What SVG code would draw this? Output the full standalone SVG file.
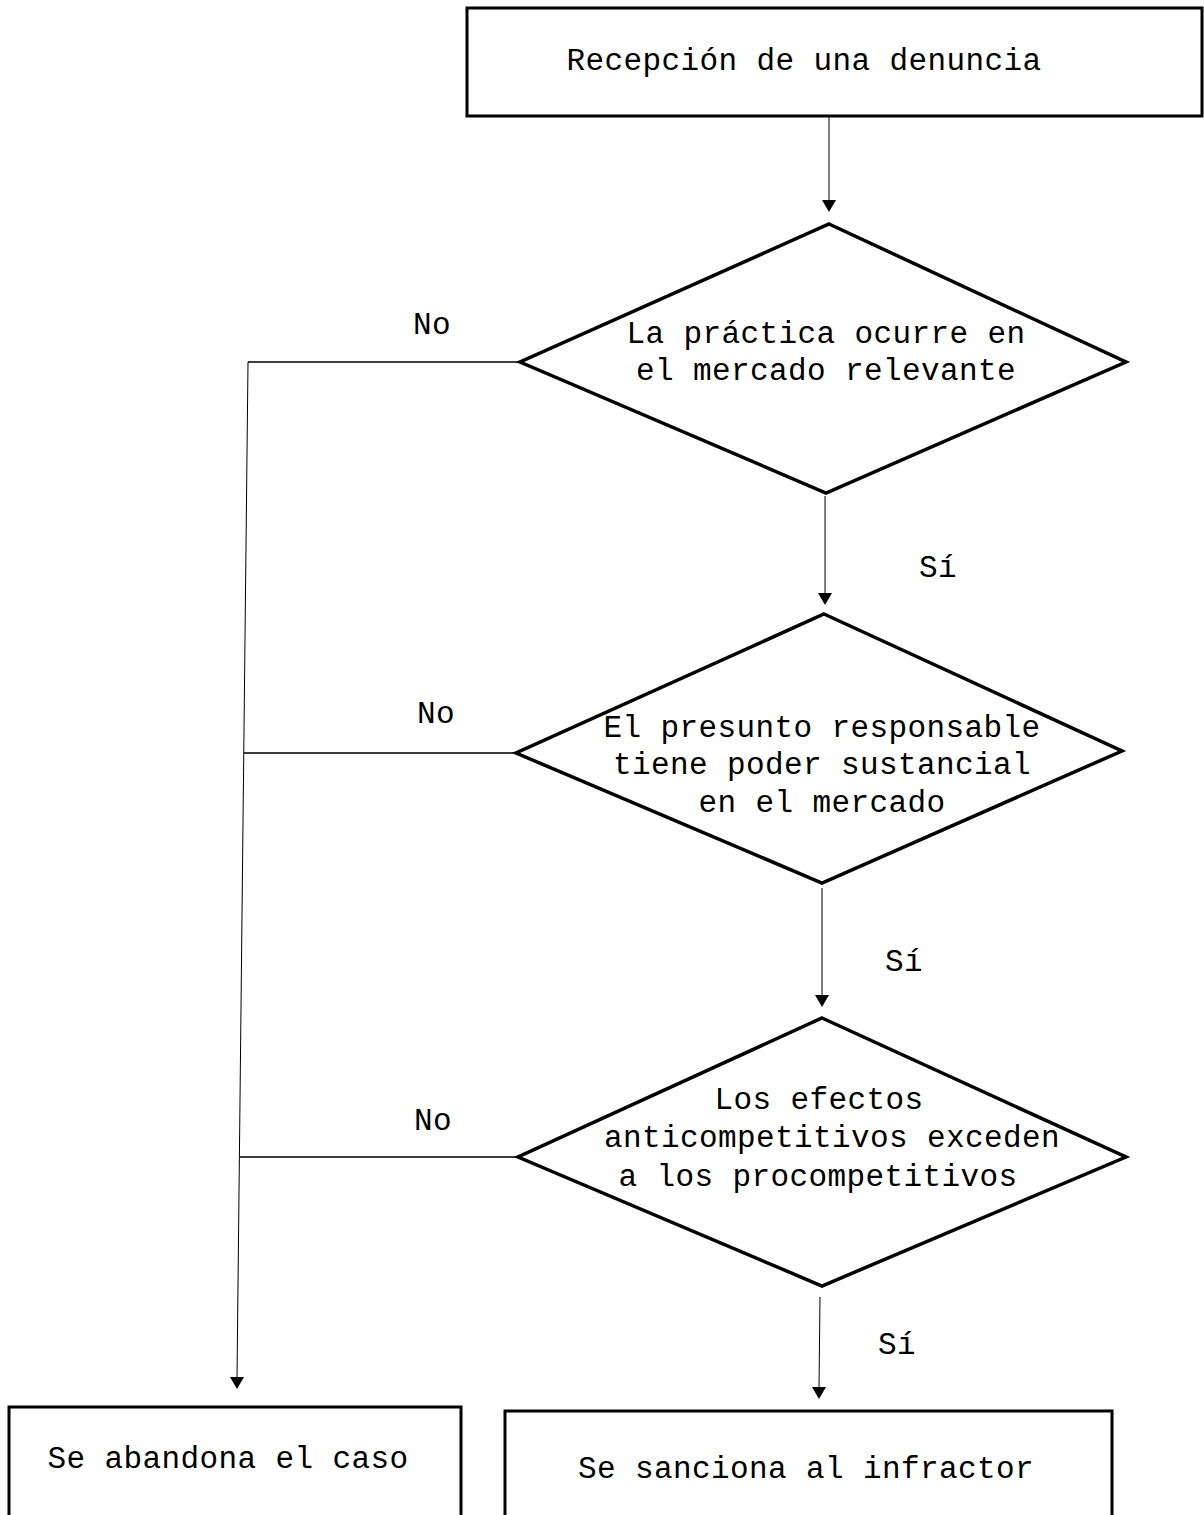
<svg xmlns="http://www.w3.org/2000/svg" width="1204" height="1515" viewBox="0 0 1204 1515">
<style>
.box{fill:#fff;stroke:#000;stroke-width:3}
.dia{fill:#fff;stroke:#000;stroke-width:3.5;stroke-linejoin:miter}
.t{font-family:"Liberation Mono","Courier New",monospace;font-size:31px;letter-spacing:0.4px;fill:#000;text-anchor:middle}
.c{fill:none;stroke:#000;stroke-width:1.5}
.v{fill:none;stroke:#000;stroke-width:1}
</style>
<rect width="1204" height="1515" fill="#fff"/>
<g id="connectors">
<line class="v" x1="829" y1="117" x2="829" y2="201"/>
<path d="M822,200 L836,200 L829,212 Z"/>
<line class="v" x1="825" y1="496" x2="825" y2="594"/>
<path d="M818,593 L832,593 L825,605 Z"/>
<line class="v" x1="822" y1="888" x2="822" y2="996"/>
<path d="M815,995 L829,995 L822,1007 Z"/>
<line class="v" x1="820" y1="1297" x2="819" y2="1388"/>
<path d="M812,1387 L826,1387 L819,1399 Z"/>
<line class="c" x1="248" y1="362" x2="520" y2="362"/>
<line class="c" x1="244" y1="753" x2="516" y2="753"/>
<line class="c" x1="240" y1="1157" x2="518" y2="1157"/>
<line class="v" x1="248" y1="362" x2="237" y2="1378"/>
<path d="M230,1377 L244,1377 L237,1389 Z"/>
<text class="t" x="432" y="334">No</text>
<text class="t" x="436" y="723">No</text>
<text class="t" x="433" y="1130">No</text>
<text class="t" x="938" y="577">Sí</text>
<text class="t" x="904" y="971">Sí</text>
<text class="t" x="897" y="1354">Sí</text>
</g>
<g id="n1">
<rect class="box" x="467" y="8" width="735" height="108"/>
<text class="t" x="804" y="70">Recepción de una denuncia</text>
</g>
<g id="d1">
<polygon class="dia" points="829,224 1126,362 826,493 520,362"/>
<text class="t" x="826" y="343">La práctica ocurre en</text>
<text class="t" x="826" y="380">el mercado relevante</text>
</g>
<g id="d2">
<polygon class="dia" points="824,614 1122,751 822,883 516,753"/>
<text class="t" x="822" y="737">El presunto responsable</text>
<text class="t" x="822" y="774">tiene poder sustancial</text>
<text class="t" x="822" y="812">en el mercado</text>
</g>
<g id="d3">
<polygon class="dia" points="822,1018 1126,1157 822,1286 518,1157"/>
<text class="t" x="819" y="1109">Los efectos</text>
<text class="t" x="832" y="1147">anticompetitivos exceden</text>
<text class="t" x="818" y="1186">a los procompetitivos</text>
</g>
<g id="n_abandona">
<rect class="box" x="9" y="1407" width="452" height="120"/>
<text class="t" x="228" y="1468">Se abandona el caso</text>
</g>
<g id="n_sanciona">
<rect class="box" x="505" y="1411" width="607" height="120"/>
<text class="t" x="806" y="1478">Se sanciona al infractor</text>
</g>
</svg>
